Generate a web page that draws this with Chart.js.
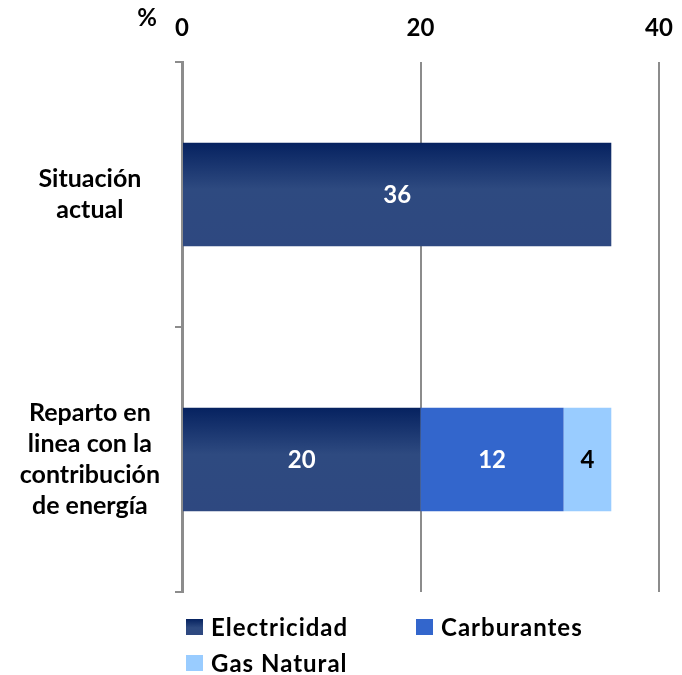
<!DOCTYPE html>
<html>
<head>
<meta charset="utf-8">
<script src="https://cdn.jsdelivr.net/npm/chart.js@4.4.1/dist/chart.umd.min.js"></script>
<style>
   html, body { margin:0; padding:0; background:#fff; }
   #wrap { position:relative; width:682px; height:675px; }
   #legend {
      position:absolute; left:186px; top:613px; width:460px;
      display:grid; grid-template-columns:230px 230px; row-gap:9px;
      font-family:Lato, sans-serif; font-weight:bold; font-size:24px;
      letter-spacing:1px; color:#000;
   }
   #legend .item { display:flex; align-items:center; height:27px; }
   #legend .box { width:17px; height:16px; margin-right:8px; }
</style>
</head>
<body>
<div id="wrap">
   <canvas id="chart" width="682" height="675"></canvas>
   <div id="legend"></div>
</div>
<script>

let categories = [
   ["Situación","actual"],
   ["Reparto en","linea con la","contribución","de energía"]
];

let seriesNames = ["Electricidad","Carburantes","Gas Natural"];

let electricidad = [36, 20];
let carburantes = [null, 12];
let gasNatural = [null, 4];

let xTicks = [0, 20, 40];

let barPct = 0.39;

Chart.defaults.font.family = "Lato, sans-serif";
Chart.defaults.font.weight = "bold";
Chart.defaults.color = "#000";

/* degradado de la barra azul oscuro, por barra */
function electricidadFill(context){

   let chart = context.chart;
   let yScale = chart.scales.y;

   if(!chart.chartArea || !yScale || context.dataIndex === undefined) return "#2E4A80";

   let center = yScale.getPixelForValue(context.dataIndex);
   let half = (yScale.height / categories.length) * barPct / 2;

   if(!isFinite(center) || !isFinite(half) || half <= 0) return "#2E4A80";

   let g = chart.ctx.createLinearGradient(0, center - half, 0, center + half);
   g.addColorStop(0, "#062260");
   g.addColorStop(0.45, "#2E4A80");
   g.addColorStop(1, "#2E4880");

   return g;

}

/* etiquetas de valores dentro de las barras */
let valueLabels = {

   id: "valueLabels",

   afterDatasetsDraw(chart){

      let ctx = chart.ctx;

      ctx.save();
      ctx.font = "bold 24px Lato, sans-serif";
      ctx.textAlign = "center";
      ctx.textBaseline = "middle";

      chart.data.datasets.forEach((ds, di) => {

         let meta = chart.getDatasetMeta(di);

         meta.data.forEach((bar, i) => {

            let v = ds.data[i];
            if(v === null || v === undefined) return;

            let p = bar.getCenterPoint();
            ctx.fillStyle = ds.labelColor;
            ctx.fillText(String(v), p.x, p.y + 1);

         });

      });

      /* simbolo % */
      let area = chart.chartArea;
      ctx.font = "bold 24px Lato, sans-serif";
      ctx.fillStyle = "#000";
      ctx.textAlign = "center";
      ctx.fillText("%", area.left - 35, area.top - 44);

      ctx.restore();

   }

};

let chart = new Chart(document.getElementById("chart"), {

   type: "bar",

   data: {

      labels: categories,

      datasets: [
         {
            label: seriesNames[0],
            data: electricidad,
            backgroundColor: electricidadFill,
            labelColor: "#fff",
            legendBox: "linear-gradient(#062260, #2E4A80 55%, #2E4880)"
         },
         {
            label: seriesNames[1],
            data: carburantes,
            backgroundColor: "#3366CC",
            labelColor: "#fff",
            legendBox: "#3366CC"
         },
         {
            label: seriesNames[2],
            data: gasNatural,
            backgroundColor: "#99CCFF",
            labelColor: "#000",
            legendBox: "#99CCFF"
         }
      ]

   },

   options: {

      indexAxis: "y",
      responsive: false,
      animation: false,

      layout: {
         padding: { top: 0, left: 0, right: 23, bottom: 83 }
      },

      datasets: {
         bar: {
            categoryPercentage: 1,
            barPercentage: barPct,
            borderWidth: 0
         }
      },

      plugins: {
         legend: { display: false },
         tooltip: { enabled: false }
      },

      scales: {

         x: {
            position: "top",
            stacked: true,
            min: 0,
            max: 40,
            afterBuildTicks: function(scale){
               scale.ticks = xTicks.map(v => ({ value: v }));
            },
            afterFit: function(scale){
               scale.height = 62;
               scale.paddingLeft = 0;
               scale.paddingRight = 0;
            },
            border: { display: false },
            grid: {
               color: "#8C8C8C",
               lineWidth: 2,
               drawTicks: false
            },
            ticks: {
               padding: 19,
               font: { size: 24, weight: "bold" }
            }
         },

         y: {
            stacked: true,
            afterFit: function(scale){
               scale.width = 182;
               scale.paddingTop = 0;
               scale.paddingBottom = 0;
            },
            border: { display: true, color: "#8C8C8C", width: 3 },
            grid: {
               offset: true,
               drawOnChartArea: false,
               color: "#8C8C8C",
               lineWidth: 2,
               tickLength: 7
            },
            ticks: {
               crossAlign: "center",
               padding: 15,
               font: { size: 25, weight: "bold", lineHeight: 1.25 }
            }
         }

      }

   },

   plugins: [valueLabels]

});

/* leyenda en html, dos columnas */
function buildLegend(chart){

   let box = document.getElementById("legend");
   box.innerHTML = "";

   chart.data.datasets.forEach(ds => {

      let item = document.createElement("div");
      item.className = "item";

      let sw = document.createElement("span");
      sw.className = "box";
      sw.style.background = ds.legendBox;

      let txt = document.createElement("span");
      txt.textContent = ds.label;

      item.appendChild(sw);
      item.appendChild(txt);
      box.appendChild(item);

   });

}

buildLegend(chart);

</script>
</body>
</html>
